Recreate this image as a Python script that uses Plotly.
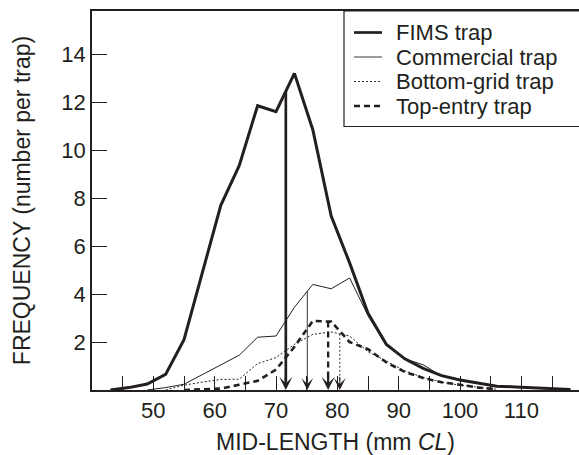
import numpy as np
import plotly.graph_objects as go

# ---- data ----
mid_length = [43, 46, 49, 52, 55, 58, 61, 64, 67, 70, 73, 76, 79, 82, 85,
              88, 91, 94, 97, 100, 103, 106, 109, 112, 115, 118]

fims = [0.0, 0.1, 0.25, 0.65, 2.1, 4.95, 7.7, 9.35, 11.85, 11.6, 13.2, 10.85, 7.25,
        5.3, 3.2, 1.9, 1.3, 0.9, 0.6, 0.42, 0.3, 0.16, 0.13, 0.1, 0.06, 0.02]

commercial_x = [49, 52, 55, 58, 61, 64, 67, 70, 73, 76, 79, 82, 85, 88, 91, 94,
                97, 100, 103, 106, 109, 112, 115, 118]
commercial = [0.0, 0.1, 0.24, 0.65, 1.05, 1.45, 2.2, 2.25, 3.45, 4.4, 4.22, 4.67,
              3.1, 1.85, 1.3, 1.05, 0.58, 0.42, 0.3, 0.15, 0.12, 0.1, 0.05, 0.02]

bottom_x = [52, 55, 58, 61, 64, 67, 70, 73, 76, 79, 82, 85, 88, 91, 94, 97, 100, 103, 106]
bottom_grid = [0.0, 0.2, 0.33, 0.44, 0.45, 1.1, 1.35, 1.9, 2.32, 2.42, 2.25, 1.6,
               1.2, 0.8, 0.52, 0.33, 0.2, 0.1, 0.03]

top_x = [55, 58, 61, 64, 67, 70, 73, 76, 79, 82, 85, 88, 91, 94, 97, 100, 103, 106]
top_entry = [0.0, 0.03, 0.06, 0.22, 0.38, 0.85, 1.8, 2.88, 2.85, 2.0, 1.7, 1.15,
             0.75, 0.5, 0.32, 0.22, 0.1, 0.03]

series_names = ["FIMS trap", "Commercial trap", "Bottom-grid trap", "Top-entry trap"]
mean_length = [71.6, 75.1, 80.4, 78.5]   # FIMS, Commercial, Bottom-grid, Top-entry

x_ticks = [50, 60, 70, 80, 90, 100, 110]
x_minor = [45, 55, 65, 75, 85, 95, 105, 115]
y_ticks = [2, 4, 6, 8, 10, 12, 14]

# ---- styles ----
INK = "#231f20"
styles = [
    dict(width=3.0, dash="solid"),
    dict(width=1.0, dash="solid"),
    dict(width=1.0, dash="2px,2px"),
    dict(width=2.6, dash="6px,4px"),
]
xs = [mid_length, commercial_x, bottom_x, top_x]
ys = [fims, commercial, bottom_grid, top_entry]

fig = go.Figure()
for name, x, y, st in zip(series_names, xs, ys, styles):
    fig.add_trace(go.Scatter(x=x, y=y, mode="lines", name=name,
                             line=dict(color=INK, width=st["width"], dash=st["dash"]),
                             showlegend=False, hoverinfo="skip"))

# mean arrows
for name, x, y, st, m in zip(series_names, xs, ys, styles, mean_length):
    top = float(np.interp(m, x, y))
    fig.add_trace(go.Scatter(x=[m, m], y=[top, 0.35], mode="lines",
                             line=dict(color=INK, width=st["width"] * 0.9, dash=st["dash"]),
                             showlegend=False, hoverinfo="skip"))
    thick = st["width"] > 2
    fig.add_annotation(x=m, y=0, ax=m, ay=0.6, xref="x", yref="y", axref="x", ayref="y",
                       showarrow=True, arrowhead=3, arrowwidth=2.2 if thick else 1.1,
                       arrowsize=1.0 if thick else 1.8, arrowcolor=INK, standoff=0, text="")

# manual legend
x0p, x1p = 92, 579
def px2paper_x(px):
    return (px - x0p) / (x1p - x0p)
def px2paper_y(py):
    return (390 - py) / (390 - 11)

fig.add_shape(type="rect", xref="paper", yref="paper",
              x0=px2paper_x(344), x1=px2paper_x(600), y0=px2paper_y(126.5), y1=1.0,
              line=dict(color=INK, width=1.2), fillcolor="white", layer="above")
row_y = [32.5, 57, 81.5, 106]
for name, st, ry in zip(series_names, styles, row_y):
    fig.add_shape(type="line", xref="paper", yref="paper",
                  x0=px2paper_x(354), x1=px2paper_x(382), y0=px2paper_y(ry), y1=px2paper_y(ry),
                  line=dict(color=INK, width=st["width"] * 0.9, dash=st["dash"]), layer="above")
    fig.add_annotation(xref="paper", yref="paper", x=px2paper_x(394), y=px2paper_y(ry),
                       xanchor="left", yanchor="middle", text=name, showarrow=False,
                       font=dict(size=22, color=INK))

fig.update_layout(
    width=579, height=455,
    margin=dict(l=92, r=0, t=11, b=65),
    plot_bgcolor="white", paper_bgcolor="white",
    font=dict(family="Liberation Sans, Arial, sans-serif", color=INK),
    showlegend=False,
)
fig.update_xaxes(range=[40, 119.4], showline=True, linecolor=INK, linewidth=1.5, mirror=True,
                 ticks="inside", ticklen=14, tickwidth=1.2, tickcolor=INK,
                 tickvals=x_ticks, ticktext=[str(v) for v in x_ticks],
                 minor=dict(tickvals=x_minor, ticks="inside", ticklen=14, tickwidth=1.2, tickcolor=INK),
                 showgrid=False, zeroline=False, tickfont=dict(size=22),
                 title=dict(text="MID-LENGTH (mm <i>CL</i>)", font=dict(size=23), standoff=13))
fig.update_yaxes(range=[0, 15.8], showline=True, linecolor=INK, linewidth=1.5,
                 ticks="inside", ticklen=15, tickwidth=1.2, tickcolor=INK,
                 tickvals=y_ticks, showgrid=False, zeroline=False, tickfont=dict(size=22),
                 title=dict(text="FREQUENCY (number per trap)", font=dict(size=23), standoff=24))

fig.write_html("out.html", config={"displayModeBar": False},
               post_script="document.body.style.margin='0';")
